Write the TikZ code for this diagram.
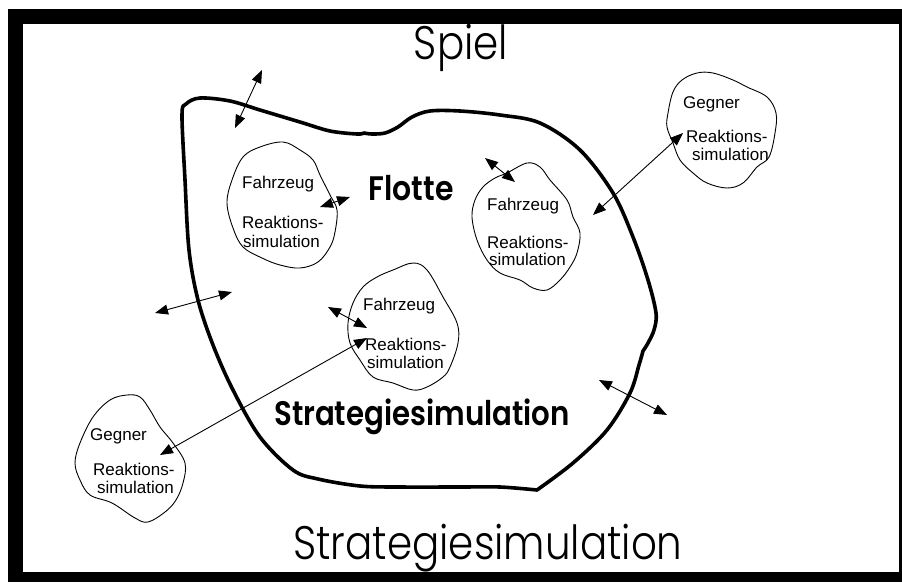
\documentclass[tikz,border=0pt]{standalone}
\usepackage{fontspec}
\setmainfont{Liberation Sans}
\newfontfamily\popsb{Poppins SemiBold}
\newfontfamily\poplight{Poppins Light}
\usetikzlibrary{arrows.meta}
\tikzset{
  blob/.style={draw=black, line width=0.9pt, line join=round},
  fleet/.style={draw=black, line width=3.6pt, line join=round, line cap=round},
  dbl/.style={line width=0.9pt, {Triangle[length=13pt,width=10pt]}-{Triangle[length=13pt,width=10pt]}},
  small/.style={font=\fontsize{17}{19}\selectfont, inner sep=0pt, anchor=base west},
  big/.style={font=\poplight\fontsize{47}{50}\selectfont, inner sep=0pt, anchor=base},
  bold/.style={font=\popsb\fontsize{34}{36}\selectfont, inner sep=0pt, anchor=base}
}
\begin{document}
\begin{tikzpicture}[x=1pt,y=-1pt]
\useasboundingbox (0,0) rectangle (902,582);
% frame
\fill[black] (8,9) rectangle (902,582);
\fill[white] (23,24) rectangle (899,572);

% titles
\node[big] (spiel) at (461,59) {\scalebox{0.86}[1]{Spiel}};
\node[big] (strat) at (488,559) {\scalebox{0.86}[1]{Strategiesimulation}};

% fleet region
\draw[fleet] plot[smooth, tension=0.55] coordinates {(537,490) (500,487) (460,487) (400,487) (360,486) (318,479) (293,470) (260,437) (233,390) (213,345) (198,300) (189,250) (185,180) (182,115) (186,104) (200,98) (230,101) (260,110) (300,122) (330,131) (357,134) (364,133)}
  -- plot[smooth, tension=0.55] coordinates {(364,133) (372,134) (385,133) (398,127) (412,117) (430,111) (460,111) (500,115) (540,123) (580,150) (613,193) (633,237) (648,280) (656,313) (654,330) (648,343) (643,351)}
  -- plot[smooth, tension=0.55] coordinates {(643,351) (639,365) (630,393) (607,430) (573,463) (537,490)} -- cycle;
\node[bold] (flotte) at (411,200) {\scalebox{0.88}[1]{Flotte}};
\node[bold] (stratin) at (422,425) {\scalebox{0.86}[1]{Strategiesimulation}};

% blob F1
\draw[blob] plot[smooth cycle, tension=0.6] coordinates {(260,147) (283,142) (300,150) (313,160) (320,175) (330,195) (337,210) (335,232) (330,247) (318,262) (300,268) (280,265) (262,258) (243,247) (233,228) (227,203) (232,180) (243,157)};
\node[small] (f1a) at (242,188) {Fahrzeug};
\node[small] (f1b) at (242,228) {Reaktions-};
\node[small] (f1c) at (243,247) {simulation};

% blob F2
\draw[blob] plot[smooth cycle, tension=0.6] coordinates {(483,187) (495,178) (507,173) (527,163) (540,167) (550,180) (567,200) (573,217) (580,233) (577,253) (570,267) (560,280) (547,290) (533,288) (520,280) (500,273) (487,260) (477,240) (472,217) (475,200)};
\node[small] (f2a) at (487,210) {Fahrzeug};
\node[small] (f2b) at (487,248) {Reaktions-};
\node[small] (f2c) at (489,265) {simulation};

% blob G1
\draw[blob] plot[smooth cycle, tension=0.6] coordinates {(697,73) (713,73) (733,80) (747,87) (767,97) (776,113) (775,133) (769,157) (757,167) (743,183) (727,188) (707,183) (693,173) (680,160) (673,143) (667,127) (668,113) (673,92) (682,80)};
\node[small] (g1a) at (683,108) {Gegner};
\node[small] (g1b) at (686,142) {Reaktions-};
\node[small] (g1c) at (692,160) {simulation};

% blob F3
\draw[blob] plot[smooth cycle, tension=0.6] coordinates {(393,270) (413,263) (427,270) (443,297) (457,323) (458,343) (450,367) (443,377) (427,387) (413,390) (393,383) (373,377) (360,360) (350,343) (348,323) (353,303) (363,287) (377,277)};
\node[small] (f3a) at (363,310) {Fahrzeug};
\node[small] (f3b) at (365,350) {Reaktions-};
\node[small] (f3c) at (367,368) {simulation};

% blob G2
\draw[blob] plot[smooth cycle, tension=0.6] coordinates {(127,395) (140,397) (150,410) (160,427) (173,443) (185,463) (183,483) (176,500) (165,512) (148,522) (135,518) (112,503) (90,495) (80,480) (75,463) (80,443) (93,417) (110,400)};
\node[small] (g2a) at (90,440) {Gegner};
\node[small] (g2b) at (93,475) {Reaktions-};
\node[small] (g2c) at (97,493) {simulation};

% arrow end points
\coordinate (a1s) at (235,128); \coordinate (a1e) at (262,70);
\coordinate (a2s) at (320,207); \coordinate (a2e) at (350,197);
\coordinate (a3s) at (485,158); \coordinate (a3e) at (515,182);
\coordinate (a4s) at (593,215); \coordinate (a4e) at (683,133);
\coordinate (a5s) at (155,313); \coordinate (a5e) at (232,292);
\coordinate (a6s) at (328,307); \coordinate (a6e) at (367,328);
\coordinate (a7s) at (160,455); \coordinate (a7e) at (367,338);
\coordinate (a8s) at (599,380); \coordinate (a8e) at (667,415);
\foreach \i in {1,...,8} {\draw[dbl] (a\i s) -- (a\i e);}
\end{tikzpicture}
\end{document}
